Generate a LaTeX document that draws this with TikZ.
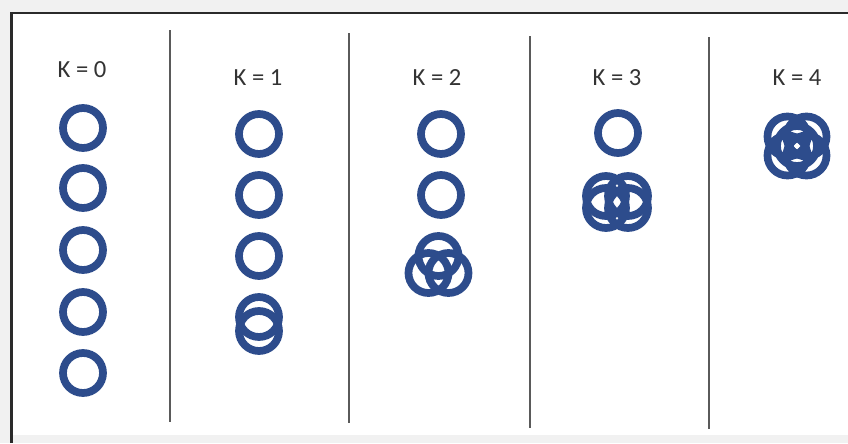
\documentclass[tikz,border=0pt]{standalone}
\usepackage{fontspec}
\setmainfont{Carlito}
\usepackage{xcolor}
\usepackage{tikz}
\usetikzlibrary{positioning}
\definecolor{ringblue}{HTML}{2D4C8C}
\definecolor{labelgray}{HTML}{333333}
\definecolor{linegray}{HTML}{5A5A5A}
\definecolor{framegray}{HTML}{2A2A2A}
\definecolor{bggray}{HTML}{F1F1F1}

\begin{document}
\begin{tikzpicture}[
  x=0.03cm, y=-0.03cm,
  ring/.style={circle, draw=ringblue, line width=6.6pt, minimum size=1.2cm, inner sep=0pt},
  klabel/.style={font=\fontsize{21}{24}\selectfont, text=labelgray},
  divider/.style={draw=linegray, line width=1.2pt},
  frame/.style={draw=framegray, line width=2.4pt}
]
  \useasboundingbox (0,0) rectangle (848,443);
  \fill[bggray] (0,0) rectangle (848,443);
  \fill[white] (12,14) rectangle (848,435);
  \draw[frame] (11.5,443) -- (11.5,13) -- (848,13);

  % column dividers
  \draw[divider] (170,30) -- (170,422);
  \draw[divider] (349,33) -- (349,423);
  \draw[divider] (530,36) -- (530,428);
  \draw[divider] (709,37) -- (709,429);

  % labels
  \node[klabel] (k0) at (82,70) {K = 0};
  \node[klabel] (k1) at (258,78) {K = 1};
  \node[klabel] (k2) at (437,78) {K = 2};
  \node[klabel] (k3) at (617,78) {K = 3};
  \node[klabel] (k4) at (797,78) {K = 4};

  % K = 0
  \foreach \y [count=\i] in {128,188,250,312,373}
    \node[ring] (a\i) at (83,\y) {};
  % K = 1
  \foreach \y [count=\i] in {134,195,256,317,331}
    \node[ring] (b\i) at (259,\y) {};
  % K = 2
  \node[ring] (c1) at (441,134) {};
  \node[ring] (c2) at (441,195) {};
  \node[ring] (c3) at (438.5,256) {};
  \node[ring] (c4) at (428.5,273) {};
  \node[ring] (c5) at (448.5,273) {};
  % K = 3
  \node[ring] (d1) at (618,133) {};
  \foreach \dx/\dy [count=\i from 2] in {-11/-6,11/-6,-11/6,11/6}
    \node[ring] (d\i) at (617+\dx,202+\dy) {};
  % K = 4
  \node[ring] (e1) at (797,146) {};
  \foreach \dx/\dy [count=\i from 2] in {-9.5/-9.5,9.5/-9.5,-9.5/9.5,9.5/9.5}
    \node[ring] (e\i) at (797+\dx,146+\dy) {};
\end{tikzpicture}
\end{document}
